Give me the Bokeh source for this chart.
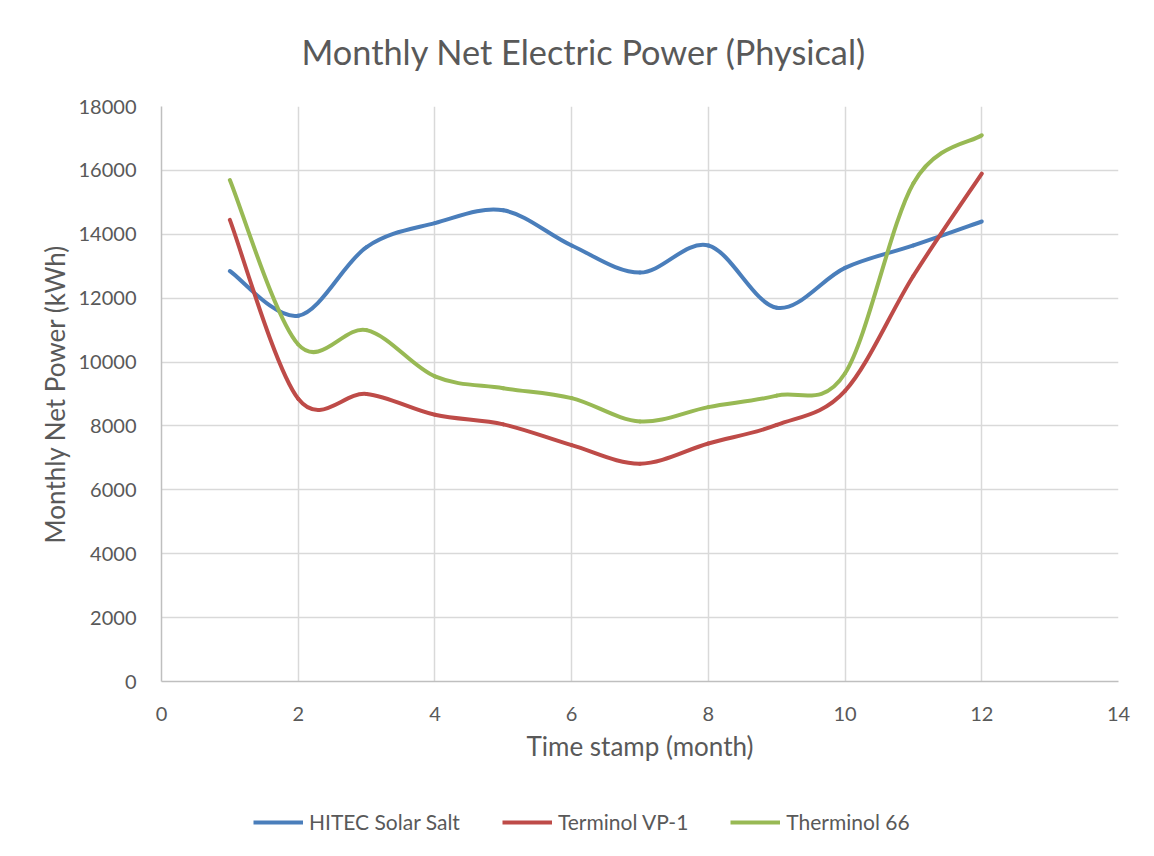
from bokeh.plotting import figure
from bokeh.layouts import column
from bokeh.models import Range1d, FixedTicker, Legend, LegendItem, Title
from bokeh.embed import file_html
from bokeh.resources import INLINE

months = [1, 2, 3, 4, 5, 6, 7, 8, 9, 10, 11, 12]
hitec = [12850, 11450, 13600, 14350, 14750, 13650, 12800, 13650, 11700, 12950, 13650, 14400]
vp1 = [14450, 8850, 9000, 8350, 8050, 7400, 6820, 7450, 8030, 9100, 12700, 15900]
t66 = [15700, 10550, 11000, 9550, 9180, 8870, 8140, 8590, 8950, 9650, 15600, 17100]
series_names = ["HITEC Solar Salt", "Terminol VP-1", "Therminol 66"]
series_colors = ["#4a7ebb", "#be4b48", "#98b954"]
x_ticks = [0, 2, 4, 6, 8, 10, 12, 14]
y_ticks = [0, 2000, 4000, 6000, 8000, 10000, 12000, 14000, 16000, 18000]

FONT = "Lato"
TXT = "#595959"


def smooth_segments(xs, ys):
    """Bezier control points (Catmull-Rom style, like Excel's smoothed line)."""
    n = len(xs)
    out = dict(x0=[], y0=[], x1=[], y1=[], cx0=[], cy0=[], cx1=[], cy1=[])
    for i in range(n - 1):
        xp, yp = (xs[i - 1], ys[i - 1]) if i > 0 else (xs[i], ys[i])
        xn, yn = (xs[i + 2], ys[i + 2]) if i + 2 < n else (xs[i + 1], ys[i + 1])
        out["x0"].append(xs[i]); out["y0"].append(ys[i])
        out["x1"].append(xs[i + 1]); out["y1"].append(ys[i + 1])
        out["cx0"].append(xs[i] + (xs[i + 1] - xp) / 6.0)
        out["cy0"].append(ys[i] + (ys[i + 1] - yp) / 6.0)
        out["cx1"].append(xs[i + 1] - (xn - xs[i]) / 6.0)
        out["cy1"].append(ys[i + 1] - (yn - ys[i]) / 6.0)
    return out


p = figure(width=1138, height=780, output_backend="svg", toolbar_location=None,
           x_range=Range1d(0, 14), y_range=Range1d(0, 18000),
           min_border_left=161, min_border_right=20, min_border_top=106, min_border_bottom=99)
p.title_location = None

p.outline_line_color = None
p.background_fill_color = "white"
p.border_fill_color = "white"

# spacer between frame and title, then the title itself
p.add_layout(Title(text=" ", text_font_size="1px", standoff=32), "above")
p.add_layout(Title(text="Monthly Net Electric Power (Physical)", align="left", offset=140,
                   text_font=FONT, text_font_size="34.3px", text_font_style="normal",
                   text_color=TXT, standoff=0), "above")

for ax in (p.xaxis[0], p.yaxis[0]):
    ax.axis_line_color = "#bfbfbf"
    ax.axis_line_width = 1.5
    ax.major_tick_line_color = None
    ax.minor_tick_line_color = None
    ax.major_label_text_font = FONT
    ax.major_label_text_font_size = "20px"
    ax.major_label_text_color = TXT
    ax.axis_label_text_font = FONT
    ax.axis_label_text_font_size = "26px"
    ax.axis_label_text_font_style = "normal"
    ax.axis_label_text_color = TXT

p.xaxis.ticker = FixedTicker(ticks=x_ticks)
p.yaxis.ticker = FixedTicker(ticks=y_ticks)
p.xaxis.axis_label = "Time stamp (month)"
p.yaxis.axis_label = "Monthly Net Power (kWh)"
p.xaxis.major_label_standoff = 19
p.yaxis.major_label_standoff = 19
p.xaxis.axis_label_standoff = 6
p.yaxis.axis_label_standoff = 5

for g in (p.xgrid[0], p.ygrid[0]):
    g.grid_line_color = "#d9d9d9"
    g.grid_line_width = 1.5

# legend strip underneath the chart (its own small figure, same series)
lg = figure(width=1138, height=60, output_backend="svg", toolbar_location=None,
            x_range=Range1d(0, 14), y_range=Range1d(0, 18000),
            x_axis_location=None, y_axis_location=None,
            min_border_left=0, min_border_right=0, min_border_top=0, min_border_bottom=0)
lg.title_location = None
lg.outline_line_color = None
lg.xgrid.visible = False
lg.ygrid.visible = False

items = []
for name, ys, color in zip(series_names, [hitec, vp1, t66], series_colors):
    seg = smooth_segments(months, ys)
    p.bezier(source=seg, x0="x0", y0="y0", x1="x1", y1="y1",
             cx0="cx0", cy0="cy0", cx1="cx1", cy1="cy1",
             line_color=color, line_width=4, line_cap="round")
    r2 = lg.line(months, ys, line_color=color, line_width=4, visible=False)
    items.append(LegendItem(label=name, renderers=[r2]))

legend = Legend(items=items, orientation="horizontal", location=(92, 6),
                glyph_width=50, glyph_height=20, label_height=20, label_standoff=6, spacing=42,
                padding=0, margin=0, border_line_color=None, background_fill_alpha=0,
                inactive_fill_alpha=0,
                label_text_font=FONT, label_text_font_size="21px", label_text_color=TXT)
lg.add_layout(legend, "center")

layout = column(p, lg, spacing=0)
open("out.html", "w").write(file_html(layout, INLINE))
